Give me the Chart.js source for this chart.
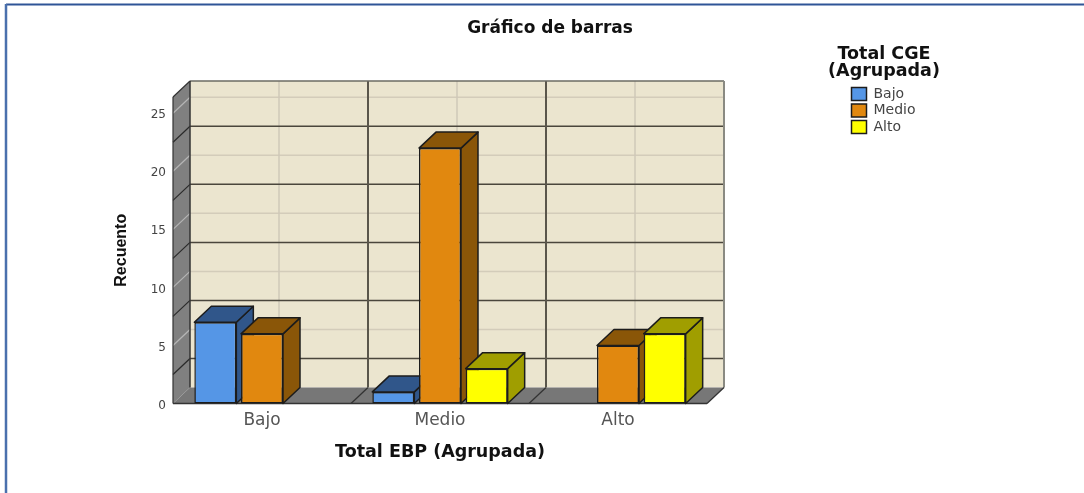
<!DOCTYPE html>
<html>
<head>
<meta charset="utf-8">
<style>
  html, body { margin: 0; padding: 0; background: #fff; }
  canvas { display: block; }
</style>
<script src="https://cdn.jsdelivr.net/npm/chart.js@4"></script>
</head>
<body>
<canvas id="barGraph" width="1084" height="493"></canvas>
<script>
// datos
const categorias = ['Bajo', 'Medio', 'Alto'];
const bajo = [7, 1, null];
const medio = [6, 22, 5];
const alto = [null, 3, 6];
const tituloLeyenda = ['Total CGE', '(Agrupada)'];

// lineas de la pared del fondo
const lineasFuertes = [2.5, 7.5, 12.5, 17.5, 22.5];
const lineasSuaves = [5, 10, 15, 20, 25];
const maxEje = 26.4;

const colorFrente = ['#5596e6', '#e1880f', '#ffff00'];
const colorLado = ['#30568a', '#8a5608', '#a09e00'];

// profundidad del efecto 3D
const fondoX = 17;
const fondoY = 16;

const fuente = 'DejaVu Sans';

function linea(ctx, x1, y1, x2, y2, color, ancho) {
    ctx.strokeStyle = color;
    ctx.lineWidth = ancho;
    ctx.beginPath();
    ctx.moveTo(x1, y1);
    ctx.lineTo(x2, y2);
    ctx.stroke();
}

function poligono(ctx, puntos, relleno, borde) {
    ctx.beginPath();
    puntos.forEach(function(p, i) {
        if (i === 0) ctx.moveTo(p[0], p[1]);
        else ctx.lineTo(p[0], p[1]);
    });
    ctx.closePath();
    ctx.fillStyle = relleno;
    ctx.fill();
    if (borde) {
        ctx.strokeStyle = borde;
        ctx.lineWidth = 1.5;
        ctx.lineJoin = 'round';
        ctx.stroke();
    }
}

// paredes, piso y caras laterales de las barras
const paredes3d = {
    id: 'paredes3d',
    afterLayout(chart) {
        // mover la leyenda a su sitio
        const leyenda = chart.legend;
        leyenda.left = 849;
        leyenda.width = 90;
        leyenda.right = 939;
        leyenda.top = 84.5;
        leyenda.bottom = 140;
    },
    beforeDraw(chart) {
        const ctx = chart.ctx;
        ctx.save();
        // marco azul de la imagen
        linea(ctx, 6, 4.5, 1084, 4.5, '#2f5597', 2);
        linea(ctx, 6, 4, 6, 493, '#4a70ad', 2.5);
        ctx.restore();
    },
    beforeDatasetsDraw(chart) {
        const ctx = chart.ctx;
        const a = chart.chartArea;
        const x = chart.scales.x;
        const y = chart.scales.y;
        const anchoCat = x.getPixelForValue(1) - x.getPixelForValue(0);

        ctx.save();
        // pared del fondo, pared izquierda y piso
        poligono(ctx, [[a.left + fondoX, a.top - fondoY], [a.right + fondoX, a.top - fondoY],
            [a.right + fondoX, a.bottom - fondoY], [a.left + fondoX, a.bottom - fondoY]], '#ebe5cf');
        poligono(ctx, [[a.left, a.top], [a.left + fondoX, a.top - fondoY],
            [a.left + fondoX, a.bottom - fondoY], [a.left, a.bottom]], '#808080');
        poligono(ctx, [[a.left, a.bottom], [a.left + fondoX, a.bottom - fondoY],
            [a.right + fondoX, a.bottom - fondoY], [a.right, a.bottom]], '#777777');

        lineasSuaves.forEach(function(v) {
            const py = y.getPixelForValue(v);
            linea(ctx, a.left, py, a.left + fondoX, py - fondoY, '#b5b5b5', 1.2);
            linea(ctx, a.left + fondoX, py - fondoY, a.right + fondoX, py - fondoY, '#d3ccba', 1.5);
        });
        categorias.forEach(function(c, i) {
            const px = x.getPixelForValue(i) + fondoX;
            linea(ctx, px, a.top - fondoY, px, a.bottom - fondoY, '#cfc9b8', 1.5);
        });
        lineasFuertes.forEach(function(v) {
            const py = y.getPixelForValue(v);
            linea(ctx, a.left, py, a.left + fondoX, py - fondoY, '#2a2a2a', 1.2);
            linea(ctx, a.left + fondoX, py - fondoY, a.right + fondoX, py - fondoY, '#4a463c', 1.5);
        });
        [1, 2].forEach(function(i) {
            const px = x.getPixelForValue(i) - anchoCat / 2;
            linea(ctx, px, a.bottom, px + fondoX, a.bottom - fondoY, '#333333', 1.2);
            linea(ctx, px + fondoX, a.top - fondoY, px + fondoX, a.bottom - fondoY, '#5a564b', 2);
        });

        // bordes del recuadro
        linea(ctx, a.left + fondoX, a.top - fondoY, a.right + fondoX, a.top - fondoY, '#6b6b63', 1.5);
        linea(ctx, a.right + fondoX, a.top - fondoY, a.right + fondoX, a.bottom - fondoY, '#8a8a82', 2);
        linea(ctx, a.left + fondoX, a.top - fondoY, a.left + fondoX, a.bottom - fondoY, '#333333', 1.5);
        linea(ctx, a.left, a.top, a.left + fondoX, a.top - fondoY, '#333333', 1.2);
        linea(ctx, a.left, a.top, a.left, a.bottom, '#333333', 1.2);
        linea(ctx, a.right, a.bottom, a.right + fondoX, a.bottom - fondoY, '#333333', 1.2);
        linea(ctx, a.left, a.bottom, a.right, a.bottom, '#333333', 1.5);

        // caras de arriba y del lado, de izquierda a derecha
        categorias.forEach(function(c, i) {
            chart.data.datasets.forEach(function(ds, d) {
                if (ds.data[i] === null) return;
                const barra = chart.getDatasetMeta(d).data[i];
                const izq = barra.x - barra.width / 2;
                const der = barra.x + barra.width / 2;
                poligono(ctx, [[der, barra.y], [der + fondoX, barra.y - fondoY],
                    [der + fondoX, barra.base - fondoY], [der, barra.base]], colorLado[d], '#1c1c1c');
                poligono(ctx, [[izq, barra.y], [izq + fondoX, barra.y - fondoY],
                    [der + fondoX, barra.y - fondoY], [der, barra.y]], colorLado[d], '#1c1c1c');
            });
        });
        ctx.restore();
    },
    afterDraw(chart) {
        // titulo de la leyenda en dos lineas
        const ctx = chart.ctx;
        ctx.save();
        ctx.font = 'bold 17.5px "' + fuente + '"';
        ctx.fillStyle = '#111';
        ctx.textAlign = 'center';
        ctx.textBaseline = 'middle';
        tituloLeyenda.forEach(function(t, i) {
            ctx.fillText(t, 884, 54 + i * 17);
        });
        ctx.restore();
    }
};

function serie(nombre, valores, d) {
    return {
        label: nombre,
        data: valores,
        backgroundColor: colorFrente[d],
        borderColor: '#1c1c1c',
        borderWidth: 1.5,
        borderSkipped: false,
        categoryPercentage: 0.7865,
        barPercentage: 0.9
    };
}

new Chart(document.getElementById('barGraph').getContext('2d'), {
    type: 'bar',
    data: {
        labels: categorias,
        datasets: [serie('Bajo', bajo, 0), serie('Medio', medio, 1), serie('Alto', alto, 2)]
    },
    options: {
        responsive: false,
        animation: false,
        layout: { padding: { left: 16, right: 0, top: 0, bottom: 0 } },
        plugins: {
            tooltip: { enabled: false },
            title: {
                display: true,
                text: 'Gráfico de barras',
                color: '#111',
                font: { family: fuente, size: 17, weight: 'bold' },
                padding: { top: 18, bottom: 58.6 }
            },
            legend: {
                position: 'chartArea',
                align: 'start',
                labels: {
                    color: '#444',
                    font: { family: fuente, size: 14 },
                    boxWidth: 15,
                    boxHeight: 13,
                    padding: 2.5
                }
            }
        },
        scales: {
            x: {
                grid: { display: false, drawTicks: false },
                border: { display: false },
                afterFit(s) { s.height = 89.5; },
                ticks: { color: '#555', padding: 7, font: { family: fuente, size: 17 } },
                title: {
                    display: true,
                    text: 'Total EBP (Agrupada)',
                    color: '#111',
                    font: { family: fuente, size: 17.5, weight: 'bold' },
                    padding: { top: 0, bottom: 30.5 }
                }
            },
            y: {
                min: 0,
                max: maxEje,
                grid: { display: false, drawTicks: false },
                border: { display: false },
                afterFit(s) { s.width = 157; },
                ticks: { stepSize: 5, includeBounds: false, color: '#444', padding: 7, labelOffset: 2, font: { family: fuente, size: 12 } },
                title: {
                    display: true,
                    text: 'Recuento',
                    color: '#111',
                    font: { family: 'Liberation Sans', size: 16, weight: 'bold' },
                    padding: { top: 96, bottom: 0 }
                }
            },
            // solo reserva el espacio de la derecha
            derecha: {
                type: 'linear',
                axis: 'y',
                position: 'right',
                grid: { display: false },
                border: { display: false },
                ticks: { display: false },
                afterFit(s) { s.width = 377; }
            }
        }
    },
    plugins: [paredes3d]
});
</script>
</body>
</html>
